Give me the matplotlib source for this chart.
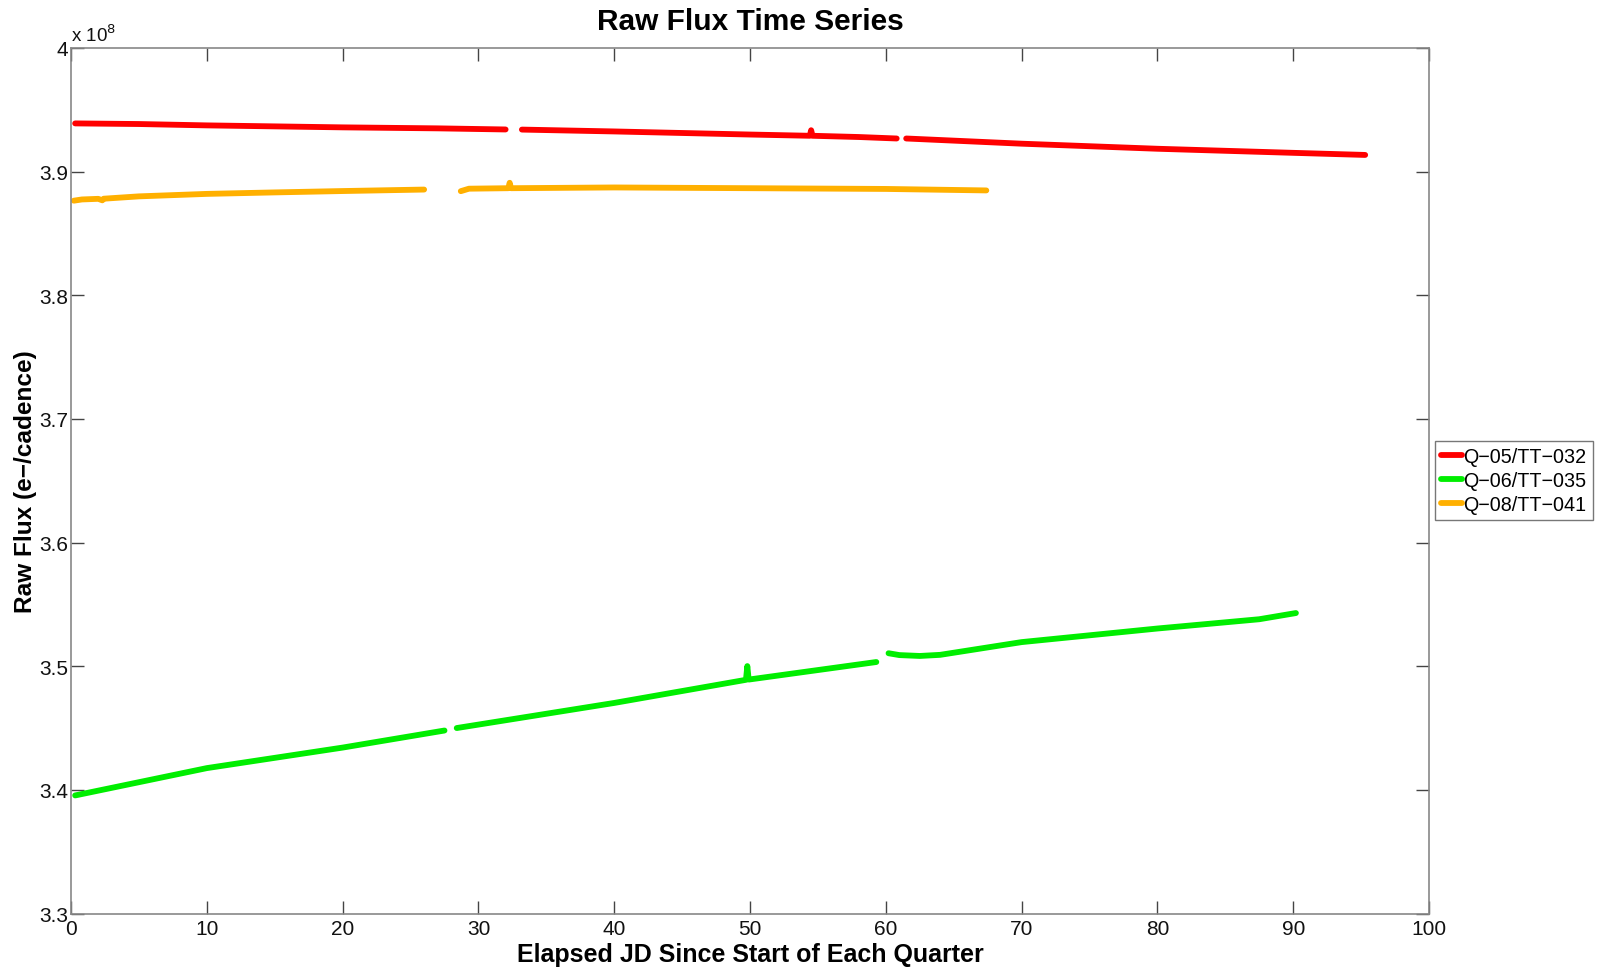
"""
Raw flux time series for three quarters / target tables
"""

import numpy as np
import matplotlib
matplotlib.use('Agg')
import matplotlib.pyplot as plt
from matplotlib.ticker import FuncFormatter

plt.rcParams['font.family'] = ['Liberation Sans', 'DejaVu Sans']

nan = np.nan

# --------------------------- data ---------------------------
# elapsed days since start of quarter, NaN marks a data gap
dayQ05 = [0.3, 5, 10, 20, 27, 32, nan,
          33.2, 40, 50, 54.4, 54.5, 54.6, 58, 60.8, nan,
          61.5, 70, 80, 90, 95.3]
fluxQ05 = [3.9390, 3.9385, 3.9374, 3.9358, 3.9350, 3.9341, nan,
           3.9340, 3.9325, 3.9300, 3.9290, 3.9335, 3.9290, 3.9280, 3.9268, nan,
           3.9268, 3.9226, 3.9185, 3.9152, 3.9135]

dayQ06 = [0.3, 10, 20, 27.5, nan,
          28.4, 40, 49.7, 49.8, 49.9, 59.3, nan,
          60.2, 61, 62.5, 64, 70, 80, 87.5, 90.2]
fluxQ06 = [3.3955, 3.4176, 3.4342, 3.4480, nan,
           3.4500, 3.4703, 3.4890, 3.5001, 3.4892, 3.5034, nan,
           3.5105, 3.5090, 3.5083, 3.5092, 3.5195, 3.5305, 3.5380, 3.5430]

dayQ08 = [0.2, 0.8, 2.0, 2.3, 2.4, 5, 10, 15, 20, 26, nan,
          28.7, 29.3, 32.2, 32.3, 32.4, 40, 50, 60, 67.4]
fluxQ08 = [3.8765, 3.8775, 3.8780, 3.8768, 3.8781, 3.8800, 3.8820, 3.8832, 3.8843, 3.8855, nan,
           3.8842, 3.8862, 3.8866, 3.8910, 3.8866, 3.8872, 3.8866, 3.8860, 3.8848]

labels = ['Q\u221205/TT\u2212032', 'Q\u221206/TT\u2212035', 'Q\u221208/TT\u2212041']
colors = ['#ff0000', '#00ee00', '#ffb000']

scale = 1e8

# --------------------------- plot ---------------------------
fig = plt.figure(figsize=(15.97, 9.70), dpi=100)
ax = fig.add_axes([0.0445, 0.0572, 0.8503, 0.8923])

series = [(dayQ05, fluxQ05), (dayQ06, fluxQ06), (dayQ08, fluxQ08)]
for (d, f), lab, col in zip(series, labels, colors):
    ax.plot(d, np.array(f) * scale, color=col, lw=4.2, label=lab,
            solid_capstyle='round', solid_joinstyle='round')

ax.set_xlim(0, 100)
ax.set_ylim(3.3e8, 4.0e8)
ax.set_xticks(np.arange(0, 101, 10))
ax.set_yticks(np.arange(3.3e8, 4.01e8, 0.1e8))
ax.yaxis.set_major_formatter(FuncFormatter(lambda v, p: f'{v / scale:.1f}'.rstrip('0').rstrip('.')))

for s in ax.spines.values():
    s.set_color('#888888')
    s.set_linewidth(1.2)
ax.tick_params(direction='in', length=9.5, width=1, color='#444444',
               top=True, right=True, labelsize=15, labelcolor='#111111')
ax.tick_params(axis='x', pad=4)
ax.tick_params(axis='y', pad=2)

ax.text(0.0, 1.003, r'x 10$^{8}$', transform=ax.transAxes, fontsize=13.5,
        ha='left', va='bottom', color='#111111')

ax.set_title('Raw Flux Time Series', fontsize=21.5, fontweight='bold', pad=13.5)
ax.set_xlabel('Elapsed JD Since Start of Each Quarter', fontsize=18, fontweight='bold', labelpad=3)
ax.set_ylabel('Raw Flux (e\u2212/cadence)', fontsize=17.6, fontweight='bold', labelpad=2)

leg = fig.legend(loc='center left', bbox_to_anchor=(0.8985, 0.5036), fontsize=14.2,
                 handlelength=1.05, handletextpad=0.1, borderpad=0.3, labelspacing=0.25,
                 borderaxespad=0, fancybox=False, framealpha=1)
leg.get_frame().set_edgecolor('#777777')
leg.get_frame().set_linewidth(1.0)

fig.savefig('out.png', dpi=100)
plt.close()
